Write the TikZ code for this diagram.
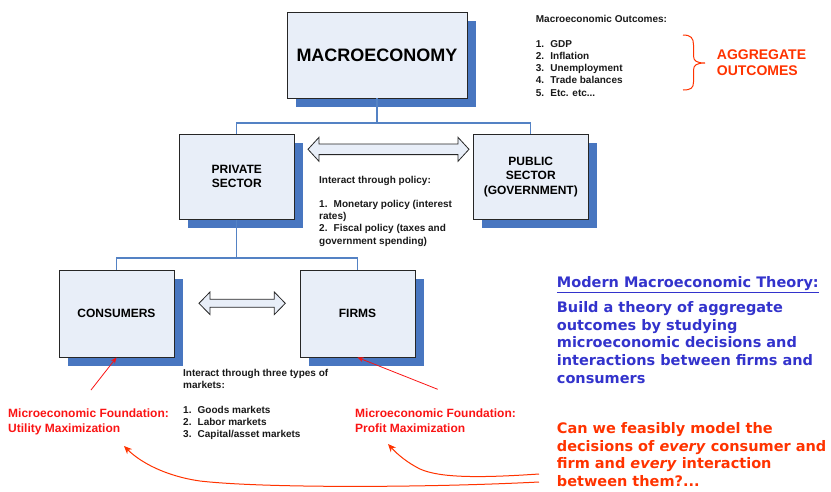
\documentclass[tikz,border=0pt]{standalone}
\usepackage{fontspec}
\setmainfont{Liberation Sans}
\newfontfamily\verd{DejaVu Sans}
\usetikzlibrary{shadows,arrows.meta}
\definecolor{boxfill}{RGB}{232,238,248}
\definecolor{shadowblue}{RGB}{72,118,192}
\definecolor{linkblue}{RGB}{84,130,196}
\definecolor{txtblue}{RGB}{51,51,204}
\definecolor{ored}{RGB}{255,51,0}
\definecolor{pred}{RGB}{250,20,20}
\newcommand\itm[1]{\makebox[14.5pt][l]{#1}}
\begin{document}
\begin{tikzpicture}[x=1pt,y=-1pt,
  box/.style={draw=black!85, line width=0.9pt, fill=boxfill, inner sep=0pt, align=center,
    font=\bfseries\fontsize{12}{14.4}\selectfont,
    drop shadow={shadow xshift=9pt, shadow yshift=-9pt, fill=shadowblue, opacity=1, draw=none}},
  conn/.style={draw=linkblue, line width=1.2pt},
  fat/.style={draw=black!85, line width=0.8pt, fill=boxfill},
  small/.style={inner sep=0pt, anchor=north west, align=left, text=black!90,
    font=\bfseries\fontsize{10}{12.2}\selectfont},
  redlbl/.style={inner sep=0pt, anchor=north west, align=left, text=pred,
    font=\bfseries\fontsize{12}{15}\selectfont},
  vtext/.style={inner sep=0pt, anchor=north west, align=left,
    font=\verd\bfseries\fontsize{14.5}{17.7}\selectfont},
  redarr/.style={draw=pred, line width=0.8pt, -{Stealth[length=6pt,width=5pt]}},
  orarr/.style={draw=ored, line width=1pt, -{Stealth[length=8pt,width=7pt]}}
]
\useasboundingbox (0,0) rectangle (831,491);

% boxes
\node[box, minimum width=180pt, minimum height=86pt, font=\bfseries\fontsize{18}{21}\selectfont] (macro) at (377,55) {MACROECONOMY};
\node[box, minimum width=115pt, minimum height=85pt] (private) at (236.8,176.7) {PRIVATE\\SECTOR};
\node[box, minimum width=115pt, minimum height=85pt] (public) at (530.8,176.7) {PUBLIC\\SECTOR\\(GOVERNMENT)};
\node[box, minimum width=115pt, minimum height=87pt] (cons) at (116.5,313.5) {CONSUMERS};
\node[box, minimum width=115pt, minimum height=87pt] (firms) at (357.5,313.5) {FIRMS};

% tree connectors
\coordinate (j1) at (377,123);
\coordinate (j2) at (236.8,258);
\draw[conn] (macro.south) -- (j1) -| (private.north);
\draw[conn] (j1) -| (public.north);
\draw[conn] (private.south) -- (j2) -| (cons.north);
\draw[conn] (j2) -| (firms.north);

% double arrows
\draw[fat] (308,149.3) -- (319,137.3) -- (319,144) -- (458,144) -- (458,137.3) -- (469,149.3)
  -- (458,161.3) -- (458,154.6) -- (319,154.6) -- (319,161.3) -- cycle;
\draw[fat] (199,303.3) -- (210,292) -- (210,299.3) -- (274.3,299.3) -- (274.3,292) -- (285.3,303.3)
  -- (274.3,314.6) -- (274.3,307.3) -- (210,307.3) -- (210,314.6) -- cycle;

% black notes
\node[small] (outc) at (535.7,15.4) {Macroeconomic Outcomes:\\[12.2pt]
  \itm{1.}GDP\\ \itm{2.}Inflation\\ \itm{3.}Unemployment\\ \itm{4.}Trade balances\\ \itm{5.}Etc. etc...};
\node[small] (policy) at (319,175.7) {Interact through policy:\\[12.2pt]
  \itm{1.}Monetary policy (interest\\ rates)\\ \itm{2.}Fiscal policy (taxes and\\ government spending)};
\node[small] (markets) at (183,369.1) {Interact through three types of\\ markets:\\[12.2pt]
  \itm{1.}Goods markets\\ \itm{2.}Labor markets\\ \itm{3.}Capital/asset markets};

% brace and aggregate outcomes
\draw[ored, line width=1pt] (683,35) .. controls (691,35) and (693.5,38) .. (693.5,45) -- (693.5,56)
  .. controls (693.5,61) and (697,63) .. (705,63) .. controls (697,63) and (693.5,65) .. (693.5,70)
  -- (693.5,82) .. controls (693.5,88) and (691,90) .. (683,90);
\node[inner sep=0pt, anchor=north west, align=left, text=ored, font=\bfseries\fontsize{14}{15.7}\selectfont]
  (agg) at (716.7,50) {AGGREGATE\\OUTCOMES};

% red labels
\node[redlbl] (ufound) at (8,408.4) {Microeconomic Foundation:\\Utility Maximization};
\node[redlbl] (pfound) at (355,408.4) {Microeconomic Foundation:\\Profit Maximization};
\coordinate (ua) at (91,390);
\coordinate (pa) at (437.7,389.3);
\draw[redarr] (ua) -- (cons.south);
\draw[redarr] (pa) -- (firms.south);

% right texts
\node[vtext, text=txtblue] (mtitle) at (556.7,276.3) {\underline{Modern Macroeconomic Theory:}};
\node[vtext, text=txtblue] (mbody) at (556.7,301.3) {Build a theory of aggregate\\outcomes by studying\\microeconomic decisions and\\interactions between firms and\\consumers};
\node[vtext, text=ored] (question) at (556.7,422.3) {Can we feasibly model the\\decisions of \textit{every} consumer and\\firm and \textit{every} interaction\\between them?...};

% curved arrows
\coordinate (c1) at (539,482);
\coordinate (c2) at (539,474);
\coordinate (e1) at (124,446);
\coordinate (e2) at (388,444);
\draw[orarr] (c1) .. controls (420,488) and (260,488) .. (200,481) .. controls (165,476) and (140,462) .. (e1);
\draw[orarr] (c2) .. controls (480,478) and (440,478) .. (420,469) .. controls (408,463) and (398,455) .. (e2);
\end{tikzpicture}
\end{document}
